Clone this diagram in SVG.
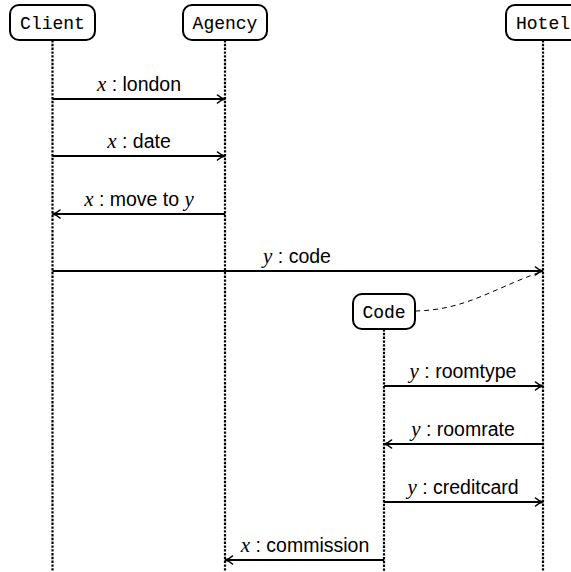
<svg xmlns="http://www.w3.org/2000/svg" width="571" height="572" viewBox="0 0 571 572">
  <style>
    .box { fill: #fff; stroke: #000; stroke-width: 2; }
    .name { font-family: "Liberation Mono", "DejaVu Sans Mono", monospace; font-size: 18px; text-anchor: middle; fill: #000; stroke: #000; stroke-width: 0.1; }
    .life { stroke: #000; stroke-width: 2.2; stroke-dasharray: 2.4 1.4; fill: none; }
    .msg { stroke: #000; stroke-width: 2; fill: none; marker-end: url(#head); }
    .lbl { font-family: "Liberation Sans", "DejaVu Sans", sans-serif; font-size: 19.5px; text-anchor: middle; fill: #000; }
    .var { font-family: "Liberation Serif", "DejaVu Serif", serif; font-style: italic; font-size: 21px; }
    .link { stroke: #000; stroke-width: 1; stroke-dasharray: 5 4; fill: none; }
  </style>
  <defs>
    <marker id="head" viewBox="0 0 10 10" refX="9" refY="5" markerWidth="10" markerHeight="10" markerUnits="userSpaceOnUse" orient="auto">
      <path d="M1.5,1 Q5,4.2 9,5 Q5,5.8 1.5,9" fill="none" stroke="#000" stroke-width="1.6" stroke-linecap="round"/>
    </marker>
  </defs>

  <!-- lifelines -->
  <g id="lifelines">
    <line class="life" x1="52.5" y1="40" x2="52.5" y2="572"/>
    <line class="life" x1="225" y1="40" x2="225" y2="572"/>
    <line class="life" x1="543" y1="40" x2="543" y2="572"/>
    <line class="life" x1="384" y1="329" x2="384" y2="572"/>
  </g>

  <!-- participants -->
  <g id="client">
    <rect class="box" x="10" y="5" width="85" height="35" rx="9"/>
    <text class="name" x="52.5" y="28.5">Client</text>
  </g>
  <g id="agency">
    <rect class="box" x="183" y="5" width="84" height="35" rx="9"/>
    <text class="name" x="225" y="28.5">Agency</text>
  </g>
  <g id="hotel">
    <rect class="box" x="506" y="5" width="74" height="35" rx="9"/>
    <text class="name" x="543" y="28.5">Hotel</text>
  </g>
  <g id="code">
    <rect class="box" x="353" y="294" width="62" height="35" rx="9"/>
    <text class="name" x="384" y="317.5">Code</text>
  </g>

  <!-- messages -->
  <g id="connectors">
    <line class="msg" x1="52.5" y1="99" x2="225" y2="99"/>
    <line class="msg" x1="52.5" y1="156" x2="225" y2="156"/>
    <line class="msg" x1="225" y1="214" x2="52.5" y2="214"/>
    <line class="msg" x1="52.5" y1="271" x2="543" y2="271"/>
    <path class="link" d="M415,311 C465,310 490,290 543,271"/>
    <line class="msg" x1="384" y1="386" x2="543" y2="386"/>
    <line class="msg" x1="543" y1="444" x2="384" y2="444"/>
    <line class="msg" x1="384" y1="502" x2="543" y2="502"/>
    <line class="msg" x1="384" y1="560" x2="225" y2="560"/>
  </g>

  <!-- message labels -->
  <g id="labels">
    <text class="lbl" x="139" y="91"><tspan class="var">x</tspan> : london</text>
    <text class="lbl" x="139" y="148"><tspan class="var">x</tspan> : date</text>
    <text class="lbl" x="139" y="206"><tspan class="var">x</tspan> : move to <tspan class="var">y</tspan></text>
    <text class="lbl" x="297" y="263"><tspan class="var">y</tspan> : code</text>
    <text class="lbl" x="463" y="378"><tspan class="var">y</tspan> : roomtype</text>
    <text class="lbl" x="463" y="436"><tspan class="var">y</tspan> : roomrate</text>
    <text class="lbl" x="463" y="494"><tspan class="var">y</tspan> : creditcard</text>
    <text class="lbl" x="305" y="552"><tspan class="var">x</tspan> : commission</text>
  </g>
</svg>
